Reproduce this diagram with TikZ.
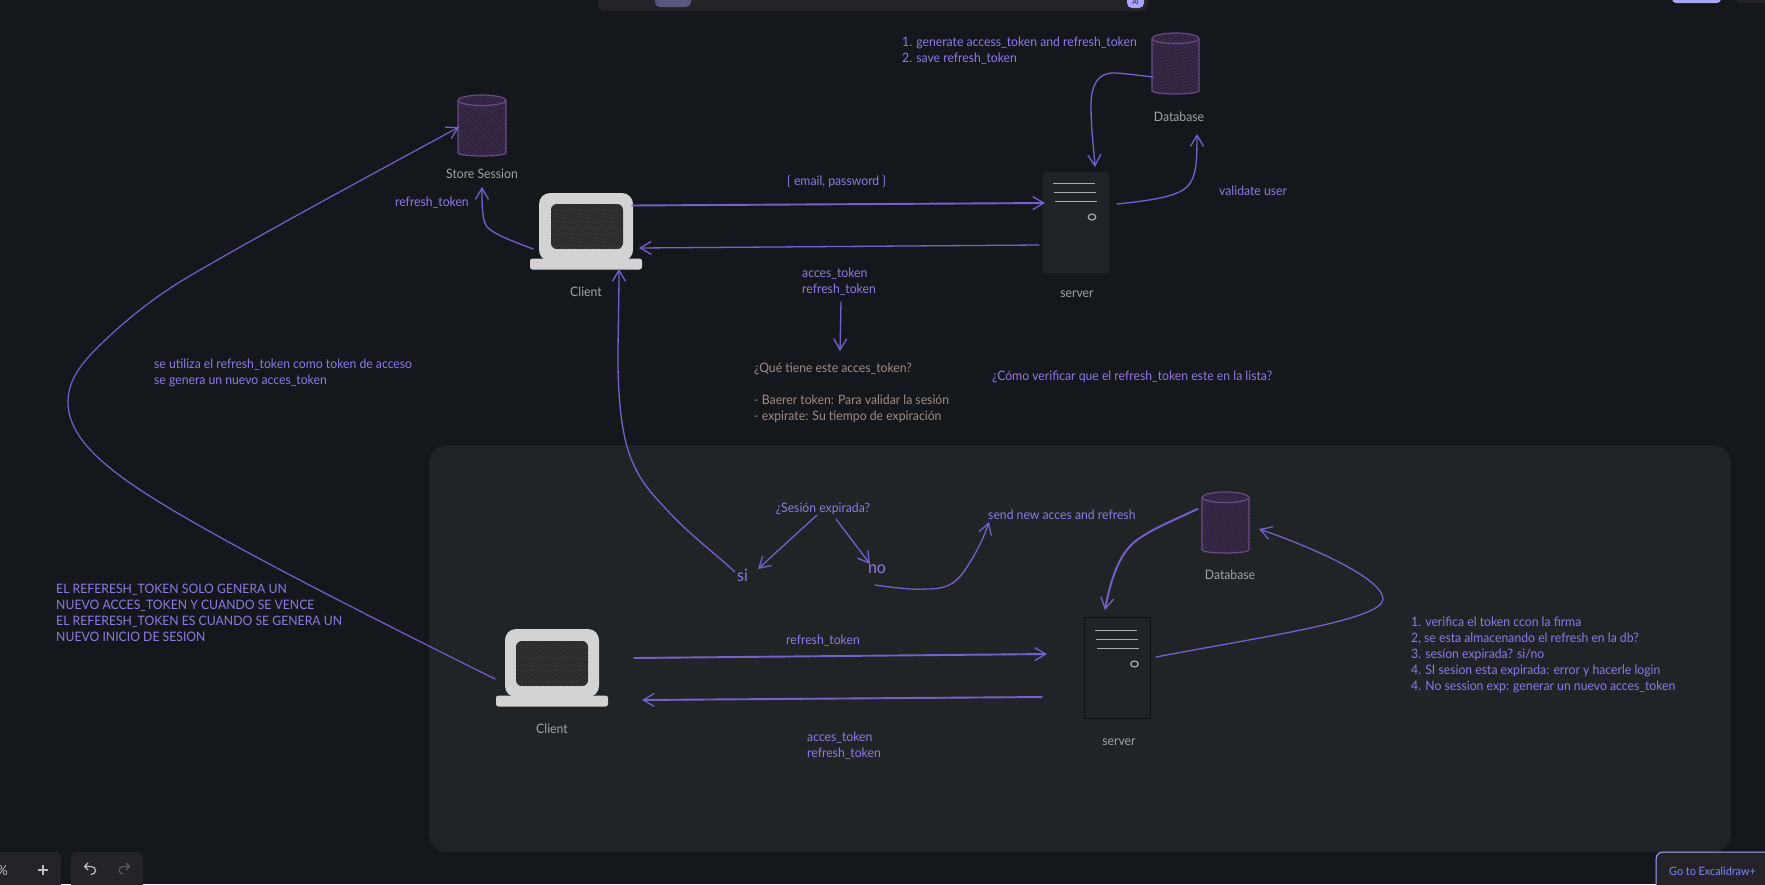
\documentclass[tikz,border=0pt]{standalone}
\usepackage{fontspec}
\setmainfont[FakeStretch=0.94]{Lato}
\usetikzlibrary{arrows.meta,shapes.geometric}
\definecolor{bgc}{HTML}{14171C}
\definecolor{panelc}{HTML}{202427}
\definecolor{barc}{HTML}{232329}
\definecolor{purp}{HTML}{8F7AE6}
\definecolor{linec}{HTML}{7561CC}
\definecolor{greyt}{HTML}{A3A3A3}
\definecolor{tant}{HTML}{A08E82}
\definecolor{cylc}{HTML}{6A4A86}
\definecolor{cylh}{HTML}{49345F}
\definecolor{cylf}{HTML}{1E1A26}
\definecolor{lapc}{HTML}{D3D3D3}
\definecolor{srvc}{HTML}{1F2326}
\definecolor{accent}{HTML}{A8A5FF}
\tikzset{
  txt/.style={inner sep=0pt,anchor=west,align=left,text=purp,yshift=-0.6pt,font=\fontsize{13}{16}\selectfont},
  tantxt/.style={txt,text=tant},
  captxt/.style={inner sep=0pt,anchor=center,text=greyt,font=\fontsize{13}{16}\selectfont},
  bigtxt/.style={inner sep=0pt,anchor=center,text=purp,yshift=-0.5pt,font=\fontsize{17}{20}\selectfont},
  arr/.style={draw=linec,line width=1.3pt,line cap=round,-{Straight Barb[length=11pt,width=13pt,line width=1.3pt]}},
  arrthick/.style={arr,line width=1.9pt,-{Straight Barb[length=11pt,width=13pt,line width=1.3pt]}},
  arrthin/.style={arr,line width=1.2pt},
  barshape/.style={fill=barc,rounded corners=6pt},
  lapbody/.style={draw=none,fill=lapc,rounded corners=11pt,inner sep=0pt},
  lapbase/.style={draw=none,fill=lapc,rounded corners=2.5pt,inner sep=0pt},
  srv/.style={draw=#1,fill=srvc,line width=1pt,inner sep=0pt},
  srvline/.style={draw=lightgray!90!black,line width=1pt},
  srvdot/.style={draw=lightgray!90!black,line width=1.2pt,ellipse,inner sep=0pt,minimum width=7.5pt,minimum height=6pt,fill=none},
}
% cylinder: x1 y1 x2 y2 (y axis points down, so the arc angles are mirrored)
\newcommand\cylshape[4]{%
  \begin{scope}
    \clip (#1,#2+5.5) arc[start angle=180,end angle=360,x radius=(#3-#1)/2,y radius=5.5] -- (#3,#4-3)
      arc[start angle=0,end angle=180,x radius=(#3-#1)/2,y radius=3] -- cycle;
    \fill[cylf] (#1,#2-2) rectangle (#3,#4+2);
    \foreach \k in {-70,-67,...,50}{\draw[cylh,line width=1pt] (#1+\k,#4+2) -- ++(70,-80);}
  \end{scope}
  \draw[cylc,line width=1.2pt] (#1,#2+5.5) arc[start angle=180,end angle=360,x radius=(#3-#1)/2,y radius=5.5] -- (#3,#4-3)
      arc[start angle=0,end angle=180,x radius=(#3-#1)/2,y radius=3] -- cycle;
  \draw[cylc,line width=1.2pt] (#1,#2+5.5) arc[start angle=180,end angle=0,x radius=(#3-#1)/2,y radius=5];
}
% laptop screen: x1 y1 x2 y2
\newcommand\lapscreen[4]{%
  \begin{scope}
    \clip[rounded corners=6pt] (#1,#2) rectangle (#3,#4);
    \fill[gray!85!black] (#1,#2) rectangle (#3,#4);
    \foreach \k in {-50,-47,...,75}{\draw[black!85,line width=1.9pt] (#1+\k,#4) -- ++(50,-60);}
  \end{scope}
}
\begin{document}
\begin{tikzpicture}[x=1pt,y=-1pt]
\useasboundingbox (0,0) rectangle (1765,884);
\fill[bgc] (0,0) rectangle (1765,884);
% panel
\fill[panelc,rounded corners=18pt] (429,445.5) rectangle (1731,852);

% app chrome
\fill[barshape] (598,-12) rectangle (1148,11);
\fill[fill=accent!40!barc,rounded corners=5pt] (655,-10) rectangle (691,7);
\fill[accent,rounded corners=5pt] (1127,-10) rectangle (1144,8);
\node[inner sep=0pt,text=barc,font=\fontsize{7}{8}\selectfont] (aibadge) at (1135.5,2) {AI};
\fill[accent,rounded corners=4pt] (1672,-10) rectangle (1721,3);
\fill[barc,rounded corners=4pt] (1736,-10) rectangle (1775,3);
\fill[barshape] (-10,852) rectangle (61,894);
\fill[barshape] (71,852) rectangle (143,894);
\node[inner sep=0pt,anchor=east,text=lightgray,font=\fontsize{14}{16}\selectfont] (zoompct) at (8,870) {\%};
\draw[lightgray,line width=1.3pt] (38,870) -- (48,870) (43,865) -- (43,875);
\draw[lightgray,line width=1.2pt,line cap=round,line join=round] (88,863) -- (84.5,866.5) -- (88,870) (84.5,866.5) -- (91,866.5) .. controls (97,866.5) and (97,874.5) .. (91,874.5);
\draw[gray!70!black,line width=1.2pt,line cap=round,line join=round] (126,863) -- (129.5,866.5) -- (126,870) (129.5,866.5) -- (123,866.5) .. controls (118,866.5) and (118,874) .. (123,874);
\draw[accent,fill=barc,line width=1pt,rounded corners=7pt] (1656,894) -- (1656,852) -- (1775,852) -- (1775,894);
\node[inner sep=0pt,anchor=west,text=accent!80!blue,font=\fontsize{11.5}{15}\selectfont] (plusbtn) at (1669,871) {Go to Excalidraw+};

% top diagram shapes
\cylshape{458}{95}{506}{156}
\cylshape{1152}{33}{1199}{94}
\node[captxt] (storecap) at (482,174) {Store Session};
\node[captxt] (dbcap) at (1179,117) {Database};
\node[lapbody,minimum width=94pt,minimum height=68pt] (client) at (586,227) {};
\lapscreen{551}{204}{623}{249}
\node[lapbase,minimum width=112pt,minimum height=11pt] (clientbase) at (586,264) {};
\node[captxt] (clientcap) at (586,292) {Client};
\node[srv=srvc,minimum width=65pt,minimum height=100pt] (server) at (1075.5,222) {};
\draw[srvline] (1053,183) -- (1095,183);
\draw[srvline] (1054,192) -- (1096,192);
\draw[srvline] (1055,201) -- (1097,201);
\node[srvdot] (serverdot) at (1092,217) {};
\node[captxt] (servercap) at (1077,294) {server};

% top labels
\node[txt] (gen) at (902,50) {1. generate access\_token and refresh\_token\\2. save refresh\_token};
\node[txt,anchor=east] (rt) at (469,202) {refresh\_token};
\node[txt] (email) at (787,181) {\{ email, password \}};
\node[txt] (at1) at (802,281) {acces\_token\\refresh\_token};
\node[txt] (val) at (1219,190) {validate user};
\node[tantxt] (que) at (754,368) {¿Qué tiene este acces\_token?};
\node[tantxt] (bearer) at (754,408) {- Baerer token: Para validar la sesión\\- expirate: Su tiempo de expiración};
\node[txt] (como) at (992,376) {¿Cómo verificar que el refresh\_token este en la lista?};
\node[txt] (utiliza) at (154,372) {se utiliza el refresh\_token como token de acceso\\se genera un nuevo acces\_token};
\node[txt] (solo) at (56,612.5) {EL REFERESH\_TOKEN SOLO GENERA UN\\NUEVO ACCES\_TOKEN Y CUANDO SE VENCE\\EL REFERESH\_TOKEN ES CUANDO SE GENERA UN\\NUEVO INICIO DE SESION};

% bottom shapes
\cylshape{1202}{492}{1249}{553}
\node[captxt] (db2cap) at (1230,575) {Database};
\node[lapbody,minimum width=94pt,minimum height=68pt] (client2) at (552,663) {};
\lapscreen{516}{641}{588}{686}
\node[lapbase,minimum width=112pt,minimum height=11pt] (client2base) at (552,701) {};
\node[captxt] (client2cap) at (552,729) {Client};
\node[srv=black!60!srvc,minimum width=66pt,minimum height=101pt] (server2) at (1117,667.5) {};
\draw[srvline] (1095,630) -- (1137,630);
\draw[srvline] (1096,639) -- (1138,639);
\draw[srvline] (1097,648) -- (1139,648);
\node[srvdot] (server2dot) at (1134.5,664) {};
\node[captxt] (server2cap) at (1119,742) {server};

% bottom labels
\node[txt,anchor=center] (ses) at (823,508) {¿Sesión expirada?};
\node[bigtxt] (si) at (742.5,575) {si};
\node[bigtxt] (no) at (877,569) {no};
\node[txt] (send) at (988,514) {send new acces and refresh};
\node[txt] (rt2) at (786,640) {refresh\_token};
\node[txt] (at2) at (807,745) {acces\_token\\refresh\_token};
\node[txt] (list) at (1411,654) {1. verifica el token ccon la firma\\2, se esta almacenando el refresh en la db?\\3. sesíon expirada? si/no\\4. SI sesion esta expirada: error y hacerle login\\4. No session exp: generar un nuevo acces\_token};

% connector ends
\coordinate (a1s) at (632,205.5); \coordinate (a1e) at (1045,203);
\coordinate (a2s) at (1039,245); \coordinate (a2e) at (639,248);
\coordinate (a3s) at (841,302); \coordinate (a3e) at (840,351);
\coordinate (a4s) at (533,249); \coordinate (a4e) at (482,187);
\coordinate (a5s) at (735,572); \coordinate (a5e) at (619,269);
\coordinate (a6s) at (1153,77); \coordinate (a6e) at (1095,167);
\coordinate (a7s) at (1117,204); \coordinate (a7e) at (1197,134);
\coordinate (a8s) at (495,679); \coordinate (a8e) at (459,127);
\coordinate (a9s) at (817,515); \coordinate (a9e) at (758,569);
\coordinate (a10s) at (836,519); \coordinate (a10e) at (870,564);
\coordinate (a11s) at (875,585); \coordinate (a11e) at (989,522);
\coordinate (a12s) at (634,658); \coordinate (a12e) at (1047,654);
\coordinate (a13s) at (1042,697); \coordinate (a13e) at (642,700);
\coordinate (a14s) at (1197.5,509); \coordinate (a14e) at (1105,610);
\coordinate (a15s) at (1156,657); \coordinate (a15e) at (1259,529);

% connectors
\draw[arrthick] (a1s) -- (a1e);
\draw[arr] (a2s) -- (a2e);
\draw[arr] (a3s) -- (a3e);
\draw[arr] (a4s) .. controls (515,242) and (495,235) .. (487,227) .. controls (482,220) and (482,205) .. (a4e);
\draw[arr] (a5s) .. controls (710,549) and (690,535) .. (667,510) .. controls (650,492) and (640,480) .. (633,463) .. controls (622,440) and (618,400) .. (618,360) .. controls (618,330) and (619,300) .. (a5e);
\draw[arr] (a6s) .. controls (1135,75) and (1122,73) .. (1113,73) .. controls (1098,73) and (1091,85) .. (1091,105) .. controls (1091,130) and (1094,150) .. (a6e);
\draw[arr] (a7s) .. controls (1145,201) and (1170,198) .. (1183,190) .. controls (1196,182) and (1197,165) .. (a7e);
\draw[arrthin] (a8s) .. controls (330,597) and (190,525) .. (130,483) .. controls (90,455) and (68,430) .. (68,402) .. controls (68,383) and (78,367) .. (96,349) .. controls (120,325) and (150,300) .. (183,280) .. controls (250,240) and (380,170) .. (a8e);
\draw[arr] (a9s) -- (a9e);
\draw[arr] (a10s) -- (a10e);
\draw[arr] (a11s) .. controls (895,588) and (915,590) .. (926,589) .. controls (945,589) and (955,585) .. (965,570) .. controls (975,555) and (983,540) .. (a11e);
\draw[arrthick] (a12s) -- (a12e);
\draw[arrthick] (a13s) -- (a13e);
\draw[arrthick] (a14s) .. controls (1172,521) and (1152,529) .. (1137,540) .. controls (1122,551) and (1112,572) .. (a14e);
\draw[arr] (a15s) .. controls (1260,637) and (1383,620) .. (1383,599) .. controls (1383,580) and (1320,550) .. (a15e);
\end{tikzpicture}
\end{document}
